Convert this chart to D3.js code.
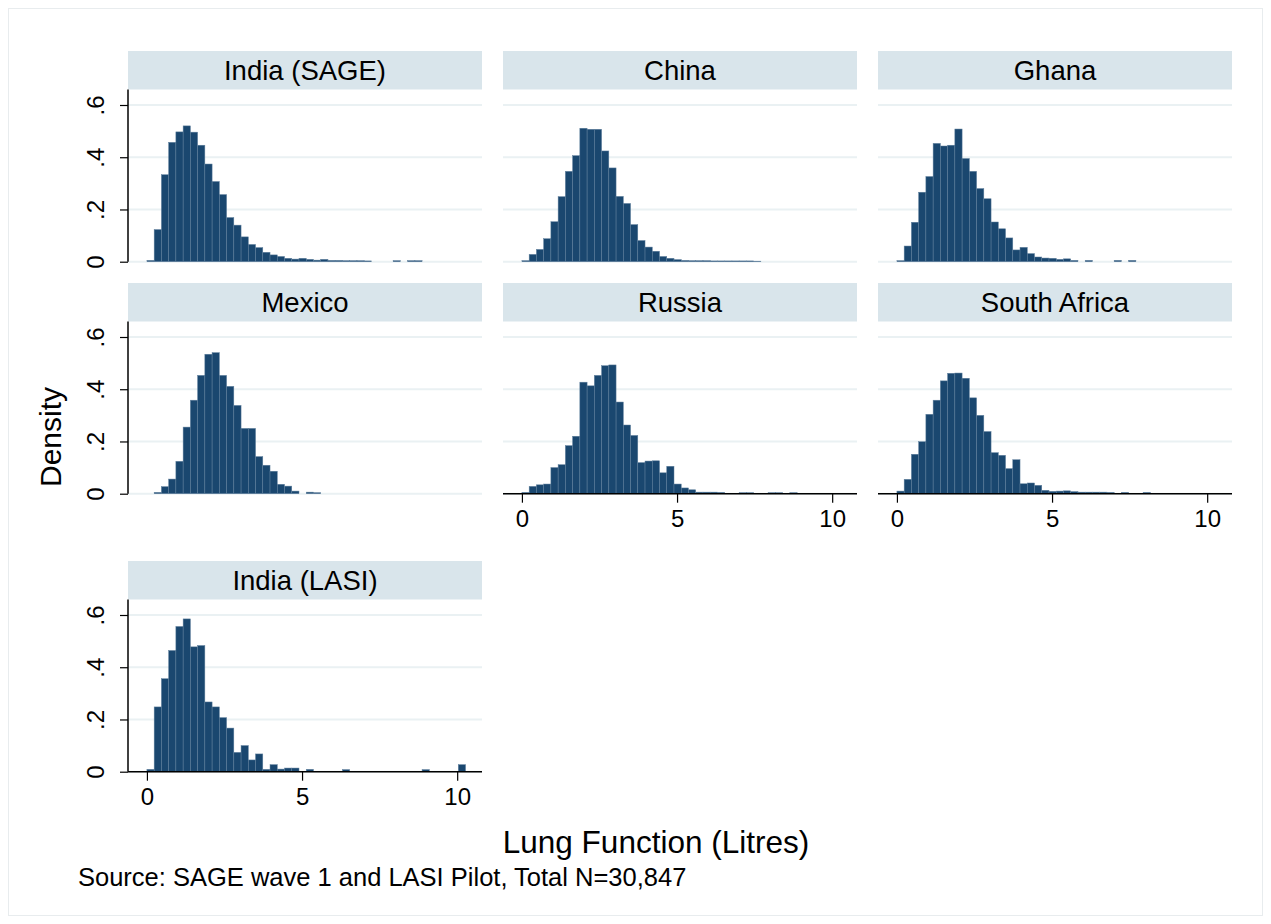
<!DOCTYPE html>
<html>
<head>
<meta charset="utf-8">
<script src="https://cdn.jsdelivr.net/npm/d3@7"></script>
<style>
  body { margin: 0; background: #fff; }
  text { font-family: "Liberation Sans", Arial, sans-serif; fill: #000; }
</style>
</head>
<body>
<div id="chart"></div>
<script>
// histogram bins: common start and width for every panel
var binStart = 0;
var binWidth = 0.2334;

var panelNames = ["India (SAGE)", "China", "Ghana", "Mexico", "Russia", "South Africa", "India (LASI)"];

// densities per bin
var indiaSage = [0.005,0.123,0.333,0.457,0.497,0.520,0.496,0.446,0.374,0.307,0.257,0.169,0.140,0.095,0.066,0.054,0.036,0.026,0.020,0.013,0.010,0.013,0.009,0.006,0.009,0.005,0.005,0.004,0.004,0.004,0.003,0,0,0,0.004,0,0.004,0.004];
var china = [0.004,0.028,0.047,0.088,0.153,0.249,0.346,0.406,0.511,0.507,0.507,0.424,0.359,0.250,0.223,0.142,0.081,0.056,0.040,0.020,0.013,0.008,0.005,0.004,0.004,0.004,0.003,0.003,0.003,0.003,0.003,0.003,0.002];
var ghana = [0.004,0.060,0.151,0.266,0.326,0.453,0.443,0.446,0.508,0.395,0.346,0.280,0.241,0.152,0.126,0.091,0.045,0.055,0.031,0.018,0.014,0.013,0.009,0.011,0.005,0,0.005,0,0,0,0.005,0,0.005];
var mexico = [0,0.005,0.027,0.056,0.124,0.255,0.358,0.453,0.534,0.540,0.453,0.411,0.338,0.250,0.250,0.142,0.109,0.086,0.036,0.029,0.010,0,0.006,0.004];
var russia = [0.005,0.028,0.034,0.037,0.100,0.111,0.184,0.220,0.427,0.413,0.453,0.490,0.493,0.351,0.263,0.223,0.119,0.125,0.126,0.080,0.105,0.037,0.022,0.015,0.006,0.006,0.006,0.005,0,0,0.004,0.004,0,0,0.004,0.004,0,0.004];
var southAfrica = [0.010,0.055,0.151,0.199,0.304,0.358,0.432,0.461,0.462,0.442,0.367,0.300,0.238,0.157,0.147,0.096,0.130,0.038,0.041,0.032,0.013,0.009,0.010,0.011,0.008,0.006,0.006,0.006,0.006,0.005,0,0.005,0,0,0.005];
var indiaLasi = [0.009,0.248,0.356,0.464,0.556,0.585,0.478,0.483,0.267,0.248,0.207,0.167,0.074,0.100,0.045,0.068,0.009,0.027,0.010,0.014,0.014,0,0.009,0,0,0,0,0.008,0,0,0,0,0,0,0,0,0,0,0.008,0,0,0,0,0.027];

var panelData = [indiaSage, china, ghana, mexico, russia, southAfrica, indiaLasi];

var yTicks = [0, 0.2, 0.4, 0.6];
var yTickLabels = ["0", ".2", ".4", ".6"];
var xTicks = [0, 5, 10];
var xTickLabels = ["0", "5", "10"];

// panels that carry an x axis
var xAxisPanels = [4, 5, 6];

var width = 1271, height = 924;
var colLeft = [128, 503, 878];
var panelW = 354;
var rowBase = [261.7, 493.7, 771.7];
var plotH = 172.2;   // header bottom to baseline
var stripH = 38.5;

var svg = d3.select("#chart").append("svg")
    .attr("width", width)
    .attr("height", height);

svg.append("rect")
    .attr("width", width).attr("height", height)
    .attr("fill", "#fff");

// outer frame
svg.append("rect")
    .attr("x", 8.5).attr("y", 8.5)
    .attr("width", 1254).attr("height", 907)
    .attr("fill", "none")
    .attr("stroke", "#e8ecee")
    .attr("stroke-width", 1);

panelData.forEach(function(values, i) {
    var col = i % 3, row = Math.floor(i / 3);
    var left = colLeft[col];
    var base = rowBase[row];
    var top = base - plotH;

    var x = d3.scaleLinear().domain([-0.61, 10.8]).range([left, left + panelW]);
    var y = d3.scaleLinear().domain([0, 0.6]).range([base, base - 156.7]);

    var g = svg.append("g").attr("class", "panel");

    // header strip
    g.append("rect")
        .attr("x", left).attr("y", top - stripH)
        .attr("width", panelW).attr("height", stripH)
        .attr("fill", "#d9e5eb");
    g.append("text")
        .attr("x", left + panelW / 2)
        .attr("y", top - stripH / 2 + 9.5)
        .attr("text-anchor", "middle")
        .attr("font-size", "27.5px")
        .text(panelNames[i]);

    // gridlines
    g.selectAll(".grid")
        .data(yTicks)
        .enter().append("line")
        .attr("class", "grid")
        .attr("x1", left).attr("x2", left + panelW)
        .attr("y1", function(d) { return y(d); })
        .attr("y2", function(d) { return y(d); })
        .attr("stroke", "#eaf1f3")
        .attr("stroke-width", 2);

    // bars
    var bins = values.map(function(v, k) {
        return {x0: binStart + k * binWidth, x1: binStart + (k + 1) * binWidth, v: v};
    }).filter(function(d) { return d.v > 0; });

    g.selectAll(".bar")
        .data(bins)
        .enter().append("rect")
        .attr("class", "bar")
        .attr("x", function(d) { return x(d.x0); })
        .attr("width", function(d) { return x(d.x1) - x(d.x0); })
        .attr("y", function(d) { return y(d.v); })
        .attr("height", function(d) { return y(0) - y(d.v); })
        .attr("fill", "#1a476f")
        .attr("stroke", "#5f7f9c")
        .attr("stroke-width", 0.5);

    // y axis on the left column
    if (col === 0) {
        var yAxis = d3.axisLeft(y)
            .tickValues(yTicks)
            .tickFormat(function(d, j) { return yTickLabels[j]; })
            .tickSize(8)
            .tickSizeOuter(0);
        var ya = g.append("g")
            .attr("transform", "translate(" + left + ",0)")
            .call(yAxis);
        ya.select(".domain").remove();
        ya.selectAll(".tick line").attr("stroke", "#000").attr("stroke-width", 1.2);
        ya.selectAll(".tick text")
            .attr("font-family", null)
            .attr("font-size", "24px")
            .attr("text-anchor", "middle")
            .attr("x", 0).attr("y", -24).attr("dy", 0)
            .attr("transform", "rotate(-90)");
        g.append("line")
            .attr("x1", left).attr("x2", left)
            .attr("y1", top).attr("y2", base)
            .attr("stroke", "#000").attr("stroke-width", 1.5);
    }

    // x axis where Stata drew it
    if (xAxisPanels.indexOf(i) >= 0) {
        var xAxis = d3.axisBottom(x)
            .tickValues(xTicks)
            .tickFormat(function(d, j) { return xTickLabels[j]; })
            .tickSize(9)
            .tickPadding(7)
            .tickSizeOuter(0);
        var xa = g.append("g")
            .attr("transform", "translate(0," + base + ")")
            .call(xAxis);
        xa.select(".domain").remove();
        xa.selectAll(".tick line").attr("stroke", "#000").attr("stroke-width", 1.2);
        xa.selectAll(".tick text")
            .attr("font-family", null)
            .attr("font-size", "24px");
        g.append("line")
            .attr("x1", left).attr("x2", left + panelW)
            .attr("y1", base).attr("y2", base)
            .attr("stroke", "#000").attr("stroke-width", 1.5);
    }
});

// axis titles and note
svg.append("text")
    .attr("transform", "translate(61,437) rotate(-90)")
    .attr("text-anchor", "middle")
    .attr("font-size", "30px")
    .text("Density");

svg.append("text")
    .attr("x", 656).attr("y", 853)
    .attr("text-anchor", "middle")
    .attr("font-size", "31.5px")
    .text("Lung Function (Litres)");

svg.append("text")
    .attr("x", 78).attr("y", 886)
    .attr("font-size", "25.5px")
    .text("Source: SAGE wave 1 and LASI Pilot, Total N=30,847");
</script>
</body>
</html>
